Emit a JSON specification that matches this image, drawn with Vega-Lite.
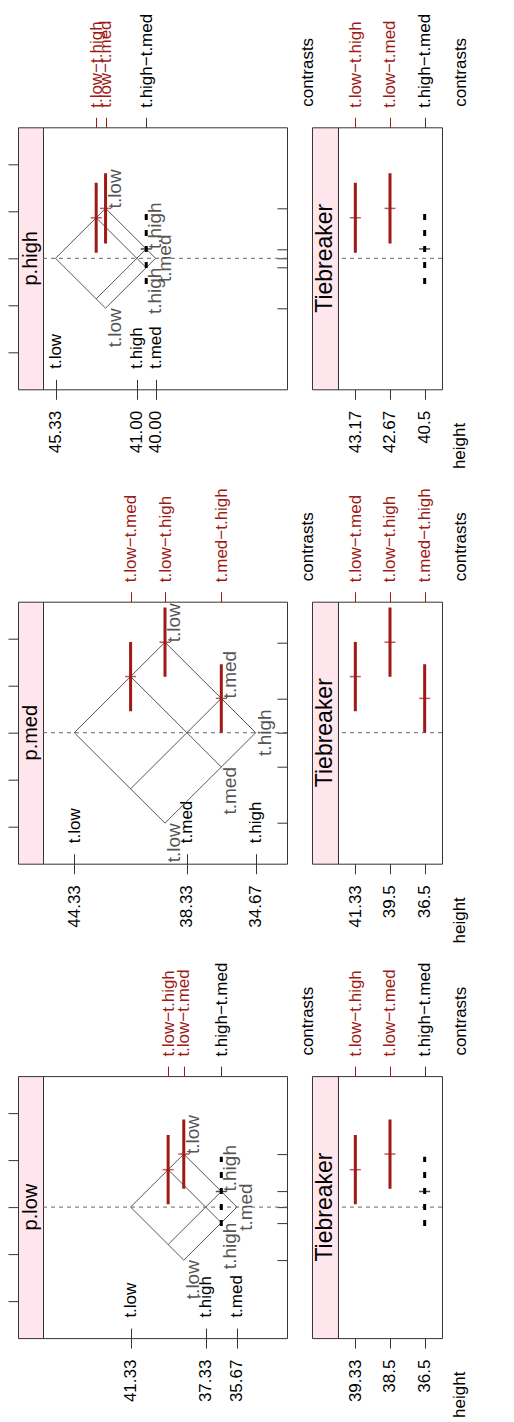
{
  "$schema": "https://vega.github.io/schema/vega-lite/v6.json",
  "autosize": {"type": "none"},
  "padding": {"left": 18, "top": 127.3, "right": 496, "bottom": 1295},
  "config": {
    "font": "Liberation Sans",
    "view": {"stroke": "#333"},
    "axis": {"domain": false, "grid": false, "labelFontSize": 17, "titleFontSize": 17, "titleFontWeight": "normal", "tickColor": "#333", "labelColor": "black", "titleColor": "black", "labelOverlap": false, "labelFlush": false, "tickSize": 10, "labelBound": false}
  },
  "datasets": {
    "iso": [
      {"panel": "p.high", "level": "t.low", "h1": 45.333, "c1": 0, "h2": 42.667, "c2": 5.333},
      {"panel": "p.high", "level": "t.low", "h1": 45.333, "c1": 0, "h2": 42.667, "c2": -5.333},
      {"panel": "p.high", "level": "t.high", "h1": 43.167, "c1": -4.333, "h2": 40.5, "c2": 1},
      {"panel": "p.high", "level": "t.high", "h1": 43.167, "c1": 4.333, "h2": 40.5, "c2": -1},
      {"panel": "p.high", "level": "t.med", "h1": 42.667, "c1": -5.333, "h2": 40, "c2": 0},
      {"panel": "p.high", "level": "t.med", "h1": 42.667, "c1": 5.333, "h2": 40, "c2": 0},
      {"panel": "p.med", "level": "t.low", "h1": 44.333, "c1": 0, "h2": 39.5, "c2": 9.667},
      {"panel": "p.med", "level": "t.low", "h1": 44.333, "c1": 0, "h2": 39.5, "c2": -9.667},
      {"panel": "p.med", "level": "t.med", "h1": 41.333, "c1": -6, "h2": 36.5, "c2": 3.667},
      {"panel": "p.med", "level": "t.med", "h1": 41.333, "c1": 6, "h2": 36.5, "c2": -3.667},
      {"panel": "p.med", "level": "t.high", "h1": 39.5, "c1": -9.667, "h2": 34.667, "c2": 0},
      {"panel": "p.med", "level": "t.high", "h1": 39.5, "c1": 9.667, "h2": 34.667, "c2": 0},
      {"panel": "p.low", "level": "t.low", "h1": 41.333, "c1": 0, "h2": 38.5, "c2": 5.667},
      {"panel": "p.low", "level": "t.low", "h1": 41.333, "c1": 0, "h2": 38.5, "c2": -5.667},
      {"panel": "p.low", "level": "t.high", "h1": 39.333, "c1": -4, "h2": 36.5, "c2": 1.667},
      {"panel": "p.low", "level": "t.high", "h1": 39.333, "c1": 4, "h2": 36.5, "c2": -1.667},
      {"panel": "p.low", "level": "t.med", "h1": 38.5, "c1": -5.667, "h2": 35.667, "c2": 0},
      {"panel": "p.low", "level": "t.med", "h1": 38.5, "c1": 5.667, "h2": 35.667, "c2": 0}
    ],
    "ends": [
      {"panel": "p.high", "level": "t.low", "h": 42.667, "c": 5.333},
      {"panel": "p.high", "level": "t.low", "h": 42.667, "c": -5.333},
      {"panel": "p.high", "level": "t.high", "h": 40.5, "c": 1},
      {"panel": "p.high", "level": "t.high", "h": 40.5, "c": -1},
      {"panel": "p.high", "level": "t.med", "h": 40, "c": 0},
      {"panel": "p.med", "level": "t.low", "h": 39.5, "c": 9.667},
      {"panel": "p.med", "level": "t.low", "h": 39.5, "c": -9.667},
      {"panel": "p.med", "level": "t.med", "h": 36.5, "c": 3.667},
      {"panel": "p.med", "level": "t.med", "h": 36.5, "c": -3.667},
      {"panel": "p.med", "level": "t.high", "h": 34.667, "c": 0},
      {"panel": "p.low", "level": "t.low", "h": 38.5, "c": 5.667},
      {"panel": "p.low", "level": "t.low", "h": 38.5, "c": -5.667},
      {"panel": "p.low", "level": "t.high", "h": 36.5, "c": 1.667},
      {"panel": "p.low", "level": "t.high", "h": 36.5, "c": -1.667},
      {"panel": "p.low", "level": "t.med", "h": 35.667, "c": 0}
    ],
    "contrasts": [
      {"panel": "p.high", "contrast": "t.low−t.high", "h": 43.167, "hlab": "43.17", "est": 4.333, "lwr": 0.58, "upr": 8.08, "sig": "yes"},
      {"panel": "p.high", "contrast": "t.low−t.med", "h": 42.667, "hlab": "42.67", "est": 5.333, "lwr": 1.58, "upr": 9.08, "sig": "yes"},
      {"panel": "p.high", "contrast": "t.high−t.med", "h": 40.5, "hlab": "40.5", "est": 1.0, "lwr": -2.75, "upr": 4.75, "sig": "no"},
      {"panel": "p.med", "contrast": "t.low−t.med", "h": 41.333, "hlab": "41.33", "est": 6.0, "lwr": 2.3, "upr": 9.7, "sig": "yes"},
      {"panel": "p.med", "contrast": "t.low−t.high", "h": 39.5, "hlab": "39.5", "est": 9.667, "lwr": 5.97, "upr": 13.37, "sig": "yes"},
      {"panel": "p.med", "contrast": "t.med−t.high", "h": 36.5, "hlab": "36.5", "est": 3.667, "lwr": 0.02, "upr": 7.32, "sig": "yes"},
      {"panel": "p.low", "contrast": "t.low−t.high", "h": 39.333, "hlab": "39.33", "est": 4.0, "lwr": 0.3, "upr": 7.7, "sig": "yes"},
      {"panel": "p.low", "contrast": "t.low−t.med", "h": 38.5, "hlab": "38.5", "est": 5.667, "lwr": 1.97, "upr": 9.37, "sig": "yes"},
      {"panel": "p.low", "contrast": "t.high−t.med", "h": 36.5, "hlab": "36.5", "est": 1.667, "lwr": -2.03, "upr": 5.37, "sig": "no"}
    ]
  },
  "columns": 5,
  "spacing": {"row": 212.4, "column": 0},
  "bounds": "flush",
  "concat": [
    {
      "width": 25, "height": 262,
      "view": {"fill": "#FFE5EC", "stroke": "#333"},
      "data": {"values": [{"panel": "p.high"}]},
      "mark": {"type": "text", "angle": 270, "fontSize": 20, "align": "center", "baseline": "middle"},
      "encoding": {
        "text": {"field": "panel"},
        "y": {"datum": 0, "type": "quantitative", "scale": {"domain": [-14, 14], "nice": false, "zero": false}, "axis": {"orient": "left", "values": [-10, -5, 0, 5, 10], "labels": false, "tickSize": 10, "title": null}}
      }
    },
    {
      "width": 244, "height": 262,
      "layer": [
        {
          "data": {"name": "iso"},
          "transform": [{"filter": "datum.panel == 'p.high'"}],
          "mark": {"type": "rule", "color": "#555", "strokeWidth": 1},
          "encoding": {
            "x": {"field": "h1", "type": "quantitative", "scale": {"domain": [33, 46], "reverse": true, "nice": false, "zero": false},
              "axis": {"orient": "bottom", "values": [45.333, 41, 40], "format": ".2f", "labelAngle": 270, "labelAlign": "right", "labelBaseline": "middle", "labelPadding": 11, "tickSize": 10, "title": null}},
            "x2": {"field": "h2"},
            "y": {"field": "c1", "type": "quantitative", "scale": {"domain": [-14, 14], "nice": false, "zero": false},
              "axis": {"orient": "right", "values": [-5.333, -1, 0, 1, 5.333], "labels": false, "tickSize": -10, "title": null}},
            "y2": {"field": "c2"}
          }
        },
        {
          "data": {"values": [{}]},
          "mark": {"type": "rule", "color": "#666", "strokeDash": [4, 4]},
          "encoding": {"y": {"datum": 0, "type": "quantitative", "axis": null}}
        },
        {
          "data": {"name": "contrasts"},
          "transform": [{"filter": "datum.panel == 'p.high'"}],
          "mark": {"type": "rule", "strokeWidth": 3},
          "encoding": {
            "x": {"field": "h", "type": "quantitative",
              "axis": {"orient": "top", "values": [43.167, 42.667, 40.5], "labelExpr": "datum.value == 43.167 ? 't.low−t.high' : datum.value == 42.667 ? 't.low−t.med' : 't.high−t.med'", "labelAngle": 270, "labelAlign": "left", "labelBaseline": "middle", "labelPadding": 10, "tickSize": 10,
                "labelColor": {"condition": {"test": "datum.value > 41", "value": "#9E1A14"}, "value": "black"},
                "tickColor": {"condition": {"test": "datum.value > 41", "value": "#9E1A14"}, "value": "#333"},
                "title": "contrasts", "titleX": 257, "titleY": -21, "titleAngle": 270, "titleAlign": "left", "titleBaseline": "top"}},
            "y": {"field": "lwr", "type": "quantitative", "axis": null},
            "y2": {"field": "upr"},
            "color": {"field": "sig", "type": "nominal", "scale": {"domain": ["yes", "no"], "range": ["#9E1A14", "black"]}, "legend": null},
            "strokeDash": {"field": "sig", "type": "nominal", "scale": {"domain": ["yes", "no"], "range": [[1, 0], [6, 10]]}, "legend": null}
          }
        },
        {
          "data": {"name": "contrasts"},
          "transform": [{"filter": "datum.panel == 'p.high'"}],
          "mark": {"type": "tick", "orient": "horizontal", "size": 11, "thickness": 1.5},
          "encoding": {
            "x": {"field": "h", "type": "quantitative",
              "axis": {"orient": "bottom", "values": [45.333, 41, 40], "labelExpr": "datum.value == 45.333 ? 't.low' : datum.value == 41 ? 't.high' : 't.med'", "labelAngle": 270, "labelAlign": "left", "labelBaseline": "middle", "labelPadding": -11, "tickSize": -10, "title": null}},
            "y": {"field": "est", "type": "quantitative", "axis": null},
            "color": {"field": "sig", "type": "nominal", "legend": null}
          }
        },
        {
          "data": {"name": "ends"},
          "transform": [{"filter": "datum.panel == 'p.high' && datum.c > 0"}],
          "mark": {"type": "text", "angle": 270, "align": "left", "baseline": "top", "fontSize": 19, "color": "#555"},
          "encoding": {"x": {"field": "h", "type": "quantitative", "axis": null}, "y": {"field": "c", "type": "quantitative", "axis": null}, "text": {"field": "level"}}
        },
        {
          "data": {"name": "ends"},
          "transform": [{"filter": "datum.panel == 'p.high' && datum.c < 0"}],
          "mark": {"type": "text", "angle": 270, "align": "right", "baseline": "top", "fontSize": 19, "color": "#555"},
          "encoding": {"x": {"field": "h", "type": "quantitative", "axis": null}, "y": {"field": "c", "type": "quantitative", "axis": null}, "text": {"field": "level"}}
        },
        {
          "data": {"name": "ends"},
          "transform": [{"filter": "datum.panel == 'p.high' && datum.c == 0"}],
          "mark": {"type": "text", "angle": 270, "align": "center", "baseline": "top", "fontSize": 19, "color": "#555"},
          "encoding": {"x": {"field": "h", "type": "quantitative", "axis": null}, "y": {"field": "c", "type": "quantitative", "axis": null}, "text": {"field": "level"}}
        }
      ],
      "resolve": {"axis": {"x": "independent", "y": "independent"}}
    },
    {
      "width": 25, "height": 262,
      "view": {"stroke": null},
      "data": {"values": [{}]},
      "mark": {"type": "text"},
      "encoding": {"text": {"value": ""}}
    },
    {
      "width": 26, "height": 262,
      "view": {"fill": "#FFE5EC", "stroke": "#333"},
      "data": {"values": [{"strip": "Tiebreaker"}]},
      "mark": {"type": "text", "angle": 270, "fontSize": 23, "align": "center", "baseline": "middle"},
      "encoding": {"text": {"field": "strip"}}
    },
    {
      "width": 104, "height": 262,
      "layer": [
        {
          "data": {"values": [{}]},
          "mark": {"type": "rule", "color": "#666", "strokeDash": [4, 4]},
          "encoding": {"y": {"datum": 0, "type": "quantitative", "scale": {"domain": [-14, 14], "nice": false, "zero": false},
            "axis": {"orient": "right", "values": [-10, -5, 0, 5, 10], "labelAngle": 270, "labelAlign": "center", "labelBaseline": "top", "labelPadding": 9, "tickSize": 10, "title": "contrast value", "titleFontSize": 20, "titleAngle": 270, "titleX": 55, "titleY": 131, "titleAlign": "center", "titleBaseline": "top"}}}
        },
        {
          "data": {"name": "contrasts"},
          "transform": [{"filter": "datum.panel == 'p.high'"}],
          "mark": {"type": "rule", "strokeWidth": 3},
          "encoding": {
            "x": {"field": "hlab", "type": "ordinal", "sort": null, "scale": {"type": "point", "padding": 0.5},
              "axis": {"orient": "bottom", "labelAngle": 270, "labelAlign": "right", "labelBaseline": "middle", "labelPadding": 11, "tickSize": 10, "title": "height", "titleX": 114, "titleY": 33, "titleAngle": 270, "titleAlign": "right", "titleBaseline": "top"}},
            "y": {"field": "lwr", "type": "quantitative", "axis": null},
            "y2": {"field": "upr"},
            "color": {"field": "sig", "type": "nominal", "legend": null},
            "strokeDash": {"field": "sig", "type": "nominal", "legend": null}
          }
        },
        {
          "data": {"name": "contrasts"},
          "transform": [{"filter": "datum.panel == 'p.high'"}],
          "mark": {"type": "tick", "orient": "horizontal", "size": 11, "thickness": 1.5},
          "encoding": {
            "x": {"field": "hlab", "type": "ordinal", "sort": null,
              "axis": {"orient": "top", "labelExpr": "datum.value == '43.17' ? 't.low−t.high' : datum.value == '42.67' ? 't.low−t.med' : 't.high−t.med'", "labelAngle": 270, "labelAlign": "left", "labelBaseline": "middle", "labelPadding": 10, "tickSize": 10,
                "labelColor": {"condition": {"test": "datum.value != '40.5'", "value": "#9E1A14"}, "value": "black"},
                "tickColor": {"condition": {"test": "datum.value != '40.5'", "value": "#9E1A14"}, "value": "#333"},
                "title": "contrasts", "titleX": 115, "titleY": -21, "titleAngle": 270, "titleAlign": "left", "titleBaseline": "top"}},
            "y": {"field": "est", "type": "quantitative", "axis": null},
            "color": {"field": "sig", "type": "nominal", "legend": null}
          }
        }
      ],
      "resolve": {"axis": {"x": "independent"}}
    },

    {
      "width": 25, "height": 262,
      "view": {"fill": "#FFE5EC", "stroke": "#333"},
      "data": {"values": [{"panel": "p.med"}]},
      "mark": {"type": "text", "angle": 270, "fontSize": 20, "align": "center", "baseline": "middle"},
      "encoding": {
        "text": {"field": "panel"},
        "y": {"datum": 0, "type": "quantitative", "scale": {"domain": [-14, 14], "nice": false, "zero": false}, "axis": {"orient": "left", "values": [-10, -5, 0, 5, 10], "labels": false, "tickSize": 10, "title": null}}
      }
    },
    {
      "width": 244, "height": 262,
      "layer": [
        {
          "data": {"name": "iso"},
          "transform": [{"filter": "datum.panel == 'p.med'"}],
          "mark": {"type": "rule", "color": "#555", "strokeWidth": 1},
          "encoding": {
            "x": {"field": "h1", "type": "quantitative", "scale": {"domain": [33, 46], "reverse": true, "nice": false, "zero": false},
              "axis": {"orient": "bottom", "values": [44.333, 38.333, 34.667], "format": ".2f", "labelAngle": 270, "labelAlign": "right", "labelBaseline": "middle", "labelPadding": 11, "tickSize": 10, "title": null}},
            "x2": {"field": "h2"},
            "y": {"field": "c1", "type": "quantitative", "scale": {"domain": [-14, 14], "nice": false, "zero": false},
              "axis": {"orient": "right", "values": [-9.667, -3.667, 0, 3.667, 9.667], "labels": false, "tickSize": -10, "title": null}},
            "y2": {"field": "c2"}
          }
        },
        {
          "data": {"values": [{}]},
          "mark": {"type": "rule", "color": "#666", "strokeDash": [4, 4]},
          "encoding": {"y": {"datum": 0, "type": "quantitative", "axis": null}}
        },
        {
          "data": {"name": "contrasts"},
          "transform": [{"filter": "datum.panel == 'p.med'"}],
          "mark": {"type": "rule", "strokeWidth": 3},
          "encoding": {
            "x": {"field": "h", "type": "quantitative",
              "axis": {"orient": "top", "values": [41.333, 39.5, 36.5], "labelExpr": "datum.value == 41.333 ? 't.low−t.med' : datum.value == 39.5 ? 't.low−t.high' : 't.med−t.high'", "labelAngle": 270, "labelAlign": "left", "labelBaseline": "middle", "labelPadding": 10, "tickSize": 10,
                "labelColor": "#9E1A14", "tickColor": "#9E1A14",
                "title": "contrasts", "titleX": 257, "titleY": -21, "titleAngle": 270, "titleAlign": "left", "titleBaseline": "top"}},
            "y": {"field": "lwr", "type": "quantitative", "axis": null},
            "y2": {"field": "upr"},
            "color": {"field": "sig", "type": "nominal", "legend": null},
            "strokeDash": {"field": "sig", "type": "nominal", "legend": null}
          }
        },
        {
          "data": {"name": "contrasts"},
          "transform": [{"filter": "datum.panel == 'p.med'"}],
          "mark": {"type": "tick", "orient": "horizontal", "size": 11, "thickness": 1.5},
          "encoding": {
            "x": {"field": "h", "type": "quantitative",
              "axis": {"orient": "bottom", "values": [44.333, 38.333, 34.667], "labelExpr": "datum.value == 44.333 ? 't.low' : datum.value == 38.333 ? 't.med' : 't.high'", "labelAngle": 270, "labelAlign": "left", "labelBaseline": "middle", "labelPadding": -11, "tickSize": -10, "title": null}},
            "y": {"field": "est", "type": "quantitative", "axis": null},
            "color": {"field": "sig", "type": "nominal", "legend": null}
          }
        },
        {
          "data": {"name": "ends"},
          "transform": [{"filter": "datum.panel == 'p.med' && datum.c > 0"}],
          "mark": {"type": "text", "angle": 270, "align": "left", "baseline": "top", "fontSize": 19, "color": "#555"},
          "encoding": {"x": {"field": "h", "type": "quantitative", "axis": null}, "y": {"field": "c", "type": "quantitative", "axis": null}, "text": {"field": "level"}}
        },
        {
          "data": {"name": "ends"},
          "transform": [{"filter": "datum.panel == 'p.med' && datum.c < 0"}],
          "mark": {"type": "text", "angle": 270, "align": "right", "baseline": "top", "fontSize": 19, "color": "#555"},
          "encoding": {"x": {"field": "h", "type": "quantitative", "axis": null}, "y": {"field": "c", "type": "quantitative", "axis": null}, "text": {"field": "level"}}
        },
        {
          "data": {"name": "ends"},
          "transform": [{"filter": "datum.panel == 'p.med' && datum.c == 0"}],
          "mark": {"type": "text", "angle": 270, "align": "center", "baseline": "top", "fontSize": 19, "color": "#555"},
          "encoding": {"x": {"field": "h", "type": "quantitative", "axis": null}, "y": {"field": "c", "type": "quantitative", "axis": null}, "text": {"field": "level"}}
        }
      ],
      "resolve": {"axis": {"x": "independent", "y": "independent"}}
    },
    {
      "width": 25, "height": 262,
      "view": {"stroke": null},
      "data": {"values": [{}]},
      "mark": {"type": "text"},
      "encoding": {"text": {"value": ""}}
    },
    {
      "width": 26, "height": 262,
      "view": {"fill": "#FFE5EC", "stroke": "#333"},
      "data": {"values": [{"strip": "Tiebreaker"}]},
      "mark": {"type": "text", "angle": 270, "fontSize": 23, "align": "center", "baseline": "middle"},
      "encoding": {"text": {"field": "strip"}}
    },
    {
      "width": 104, "height": 262,
      "layer": [
        {
          "data": {"values": [{}]},
          "mark": {"type": "rule", "color": "#666", "strokeDash": [4, 4]},
          "encoding": {"y": {"datum": 0, "type": "quantitative", "scale": {"domain": [-14, 14], "nice": false, "zero": false},
            "axis": {"orient": "right", "values": [-10, -5, 0, 5, 10], "labelAngle": 270, "labelAlign": "center", "labelBaseline": "top", "labelPadding": 9, "tickSize": 10, "title": "contrast value", "titleFontSize": 20, "titleAngle": 270, "titleX": 55, "titleY": 131, "titleAlign": "center", "titleBaseline": "top"}}}
        },
        {
          "data": {"name": "contrasts"},
          "transform": [{"filter": "datum.panel == 'p.med'"}],
          "mark": {"type": "rule", "strokeWidth": 3},
          "encoding": {
            "x": {"field": "hlab", "type": "ordinal", "sort": null, "scale": {"type": "point", "padding": 0.5},
              "axis": {"orient": "bottom", "labelAngle": 270, "labelAlign": "right", "labelBaseline": "middle", "labelPadding": 11, "tickSize": 10, "title": "height", "titleX": 114, "titleY": 33, "titleAngle": 270, "titleAlign": "right", "titleBaseline": "top"}},
            "y": {"field": "lwr", "type": "quantitative", "axis": null},
            "y2": {"field": "upr"},
            "color": {"field": "sig", "type": "nominal", "legend": null},
            "strokeDash": {"field": "sig", "type": "nominal", "legend": null}
          }
        },
        {
          "data": {"name": "contrasts"},
          "transform": [{"filter": "datum.panel == 'p.med'"}],
          "mark": {"type": "tick", "orient": "horizontal", "size": 11, "thickness": 1.5},
          "encoding": {
            "x": {"field": "hlab", "type": "ordinal", "sort": null,
              "axis": {"orient": "top", "labelExpr": "datum.value == '41.33' ? 't.low−t.med' : datum.value == '39.5' ? 't.low−t.high' : 't.med−t.high'", "labelAngle": 270, "labelAlign": "left", "labelBaseline": "middle", "labelPadding": 10, "tickSize": 10,
                "labelColor": "#9E1A14", "tickColor": "#9E1A14",
                "title": "contrasts", "titleX": 115, "titleY": -21, "titleAngle": 270, "titleAlign": "left", "titleBaseline": "top"}},
            "y": {"field": "est", "type": "quantitative", "axis": null},
            "color": {"field": "sig", "type": "nominal", "legend": null}
          }
        }
      ],
      "resolve": {"axis": {"x": "independent"}}
    },

    {
      "width": 25, "height": 262,
      "view": {"fill": "#FFE5EC", "stroke": "#333"},
      "data": {"values": [{"panel": "p.low"}]},
      "mark": {"type": "text", "angle": 270, "fontSize": 20, "align": "center", "baseline": "middle"},
      "encoding": {
        "text": {"field": "panel"},
        "y": {"datum": 0, "type": "quantitative", "scale": {"domain": [-14, 14], "nice": false, "zero": false}, "axis": {"orient": "left", "values": [-10, -5, 0, 5, 10], "labels": false, "tickSize": 10, "title": null}}
      }
    },
    {
      "width": 244, "height": 262,
      "layer": [
        {
          "data": {"name": "iso"},
          "transform": [{"filter": "datum.panel == 'p.low'"}],
          "mark": {"type": "rule", "color": "#555", "strokeWidth": 1},
          "encoding": {
            "x": {"field": "h1", "type": "quantitative", "scale": {"domain": [33, 46], "reverse": true, "nice": false, "zero": false},
              "axis": {"orient": "bottom", "values": [41.333, 37.333, 35.667], "format": ".2f", "labelAngle": 270, "labelAlign": "right", "labelBaseline": "middle", "labelPadding": 11, "tickSize": 10, "title": null}},
            "x2": {"field": "h2"},
            "y": {"field": "c1", "type": "quantitative", "scale": {"domain": [-14, 14], "nice": false, "zero": false},
              "axis": {"orient": "right", "values": [-5.667, -1.667, 0, 1.667, 5.667], "labels": false, "tickSize": -10, "title": null}},
            "y2": {"field": "c2"}
          }
        },
        {
          "data": {"values": [{}]},
          "mark": {"type": "rule", "color": "#666", "strokeDash": [4, 4]},
          "encoding": {"y": {"datum": 0, "type": "quantitative", "axis": null}}
        },
        {
          "data": {"name": "contrasts"},
          "transform": [{"filter": "datum.panel == 'p.low'"}],
          "mark": {"type": "rule", "strokeWidth": 3},
          "encoding": {
            "x": {"field": "h", "type": "quantitative",
              "axis": {"orient": "top", "values": [39.333, 38.5, 36.5], "labelExpr": "datum.value == 39.333 ? 't.low−t.high' : datum.value == 38.5 ? 't.low−t.med' : 't.high−t.med'", "labelAngle": 270, "labelAlign": "left", "labelBaseline": "middle", "labelPadding": 10, "tickSize": 10,
                "labelColor": {"condition": {"test": "datum.value > 37", "value": "#9E1A14"}, "value": "black"},
                "tickColor": {"condition": {"test": "datum.value > 37", "value": "#9E1A14"}, "value": "#333"},
                "title": "contrasts", "titleX": 257, "titleY": -21, "titleAngle": 270, "titleAlign": "left", "titleBaseline": "top"}},
            "y": {"field": "lwr", "type": "quantitative", "axis": null},
            "y2": {"field": "upr"},
            "color": {"field": "sig", "type": "nominal", "legend": null},
            "strokeDash": {"field": "sig", "type": "nominal", "legend": null}
          }
        },
        {
          "data": {"name": "contrasts"},
          "transform": [{"filter": "datum.panel == 'p.low'"}],
          "mark": {"type": "tick", "orient": "horizontal", "size": 11, "thickness": 1.5},
          "encoding": {
            "x": {"field": "h", "type": "quantitative",
              "axis": {"orient": "bottom", "values": [41.333, 37.333, 35.667], "labelExpr": "datum.value == 41.333 ? 't.low' : datum.value == 37.333 ? 't.high' : 't.med'", "labelAngle": 270, "labelAlign": "left", "labelBaseline": "middle", "labelPadding": -11, "tickSize": -10, "title": null}},
            "y": {"field": "est", "type": "quantitative", "axis": null},
            "color": {"field": "sig", "type": "nominal", "legend": null}
          }
        },
        {
          "data": {"name": "ends"},
          "transform": [{"filter": "datum.panel == 'p.low' && datum.c > 0"}],
          "mark": {"type": "text", "angle": 270, "align": "left", "baseline": "top", "fontSize": 19, "color": "#555"},
          "encoding": {"x": {"field": "h", "type": "quantitative", "axis": null}, "y": {"field": "c", "type": "quantitative", "axis": null}, "text": {"field": "level"}}
        },
        {
          "data": {"name": "ends"},
          "transform": [{"filter": "datum.panel == 'p.low' && datum.c < 0"}],
          "mark": {"type": "text", "angle": 270, "align": "right", "baseline": "top", "fontSize": 19, "color": "#555"},
          "encoding": {"x": {"field": "h", "type": "quantitative", "axis": null}, "y": {"field": "c", "type": "quantitative", "axis": null}, "text": {"field": "level"}}
        },
        {
          "data": {"name": "ends"},
          "transform": [{"filter": "datum.panel == 'p.low' && datum.c == 0"}],
          "mark": {"type": "text", "angle": 270, "align": "center", "baseline": "top", "fontSize": 19, "color": "#555"},
          "encoding": {"x": {"field": "h", "type": "quantitative", "axis": null}, "y": {"field": "c", "type": "quantitative", "axis": null}, "text": {"field": "level"}}
        }
      ],
      "resolve": {"axis": {"x": "independent", "y": "independent"}}
    },
    {
      "width": 25, "height": 262,
      "view": {"stroke": null},
      "data": {"values": [{}]},
      "mark": {"type": "text"},
      "encoding": {"text": {"value": ""}}
    },
    {
      "width": 26, "height": 262,
      "view": {"fill": "#FFE5EC", "stroke": "#333"},
      "data": {"values": [{"strip": "Tiebreaker"}]},
      "mark": {"type": "text", "angle": 270, "fontSize": 23, "align": "center", "baseline": "middle"},
      "encoding": {"text": {"field": "strip"}}
    },
    {
      "width": 104, "height": 262,
      "layer": [
        {
          "data": {"values": [{}]},
          "mark": {"type": "rule", "color": "#666", "strokeDash": [4, 4]},
          "encoding": {"y": {"datum": 0, "type": "quantitative", "scale": {"domain": [-14, 14], "nice": false, "zero": false},
            "axis": {"orient": "right", "values": [-10, -5, 0, 5, 10], "labelAngle": 270, "labelAlign": "center", "labelBaseline": "top", "labelPadding": 9, "tickSize": 10, "title": "contrast value", "titleFontSize": 20, "titleAngle": 270, "titleX": 55, "titleY": 131, "titleAlign": "center", "titleBaseline": "top"}}}
        },
        {
          "data": {"name": "contrasts"},
          "transform": [{"filter": "datum.panel == 'p.low'"}],
          "mark": {"type": "rule", "strokeWidth": 3},
          "encoding": {
            "x": {"field": "hlab", "type": "ordinal", "sort": null, "scale": {"type": "point", "padding": 0.5},
              "axis": {"orient": "bottom", "labelAngle": 270, "labelAlign": "right", "labelBaseline": "middle", "labelPadding": 11, "tickSize": 10, "title": "height", "titleX": 114, "titleY": 33, "titleAngle": 270, "titleAlign": "right", "titleBaseline": "top"}},
            "y": {"field": "lwr", "type": "quantitative", "axis": null},
            "y2": {"field": "upr"},
            "color": {"field": "sig", "type": "nominal", "legend": null},
            "strokeDash": {"field": "sig", "type": "nominal", "legend": null}
          }
        },
        {
          "data": {"name": "contrasts"},
          "transform": [{"filter": "datum.panel == 'p.low'"}],
          "mark": {"type": "tick", "orient": "horizontal", "size": 11, "thickness": 1.5},
          "encoding": {
            "x": {"field": "hlab", "type": "ordinal", "sort": null,
              "axis": {"orient": "top", "labelExpr": "datum.value == '39.33' ? 't.low−t.high' : datum.value == '38.5' ? 't.low−t.med' : 't.high−t.med'", "labelAngle": 270, "labelAlign": "left", "labelBaseline": "middle", "labelPadding": 10, "tickSize": 10,
                "labelColor": {"condition": {"test": "datum.value != '36.5'", "value": "#9E1A14"}, "value": "black"},
                "tickColor": {"condition": {"test": "datum.value != '36.5'", "value": "#9E1A14"}, "value": "#333"},
                "title": "contrasts", "titleX": 115, "titleY": -21, "titleAngle": 270, "titleAlign": "left", "titleBaseline": "top"}},
            "y": {"field": "est", "type": "quantitative", "axis": null},
            "color": {"field": "sig", "type": "nominal", "legend": null}
          }
        }
      ],
      "resolve": {"axis": {"x": "independent"}}
    }
  ]
}
